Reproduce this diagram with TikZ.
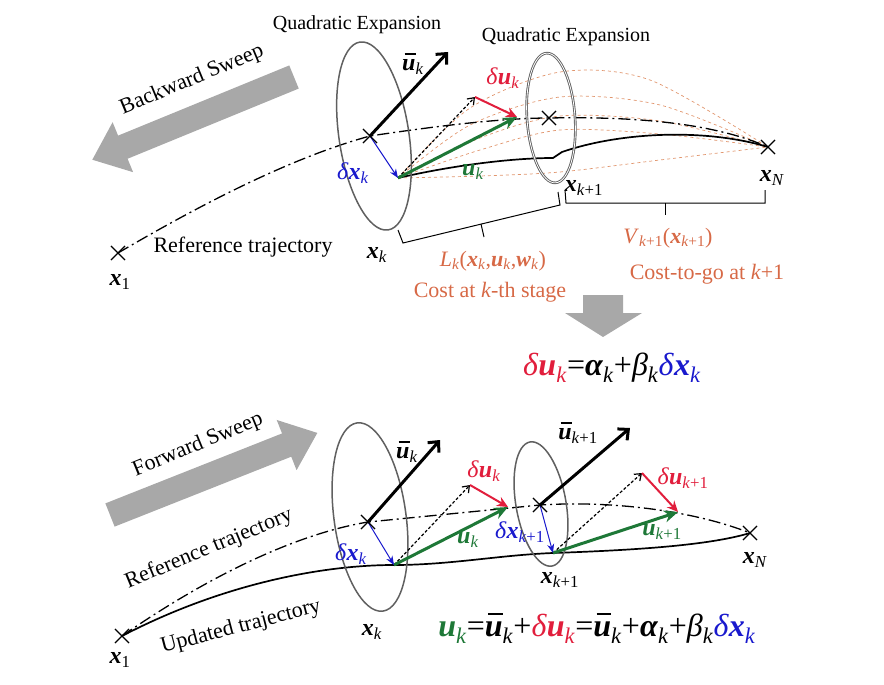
\documentclass[tikz,border=0pt]{standalone}
\usepackage{fontspec}
\setmainfont{Liberation Serif}
\usetikzlibrary{arrows.meta,shapes.misc}
\definecolor{myred}{RGB}{225,30,60}
\definecolor{mygreen}{RGB}{30,120,55}
\definecolor{myblue}{RGB}{25,25,205}
\definecolor{myorange}{RGB}{215,105,70}
\definecolor{fancol}{RGB}{225,150,110}
\definecolor{sweepcol}{RGB}{168,168,168}
\newcommand{\bx}{\textbf{\textit{x}}}
\newcommand{\bu}{\textbf{\textit{u}}}
\newcommand{\bw}{\textbf{\textit{w}}}
\newcommand{\ba}{\textbf{\textit{α}}}
\newcommand{\ubar}{\makebox[0pt][l]{\hspace{0.1em}\rule[0.66em]{0.46em}{0.07em}}\bu}
\newcommand{\sbk}{\textsubscript{\textit{k}}}
\newcommand{\sbkk}{\textsubscript{\textit{k}+1}}
\newcommand{\dl}{\textit{δ}}
\begin{document}
\begin{tikzpicture}[x=1pt,y=-1pt,
  cx/.style={cross out,draw,line width=1.1pt,minimum size=13pt,inner sep=0pt},
  lab/.style={font=\fontsize{24}{26}\selectfont,inner sep=0pt},
  txt/.style={font=\fontsize{22}{24}\selectfont,inner sep=0pt},
  qtxt/.style={font=\fontsize{20}{22}\selectfont,inner sep=0pt},
  frm/.style={font=\fontsize{32}{34}\selectfont,inner sep=0pt},
  refl/.style={line width=1.3pt,dash pattern=on 12pt off 4pt on 2pt off 4pt},
  updl/.style={line width=1.7pt},
  baru/.style={line width=3pt,-{Straight Barb[length=8pt,width=15pt]}},
  greenarr/.style={mygreen,line width=3pt,-{Stealth[length=14pt,width=12pt]}},
  redarr/.style={myred,line width=2pt,-{Stealth[length=11pt,width=10pt]}},
  bluearr/.style={myblue,line width=1pt,-{Stealth[length=9pt,width=7pt]}},
  dasharr/.style={line width=1.2pt,densely dashed,-{Straight Barb[length=6pt,width=9pt]}},
  ell/.style={draw=gray!75!black,line width=1.5pt},
  fan/.style={fancol,dashed,line width=0.7pt},
  brk/.style={line width=1pt},
]
\useasboundingbox (0,0) rectangle (884,685);

% ================= TOP PANEL =================
\coordinate (t1) at (118,253);
\coordinate (trk) at (370,136);
\coordinate (tak) at (398,178);
\coordinate (trk1) at (549,118);
\coordinate (tak1) at (553,158);
\coordinate (tN) at (768,147);
\coordinate (tub) at (448,52);
\coordinate (tdt) at (475,97);
\coordinate (tuk) at (517,117);

% sweep arrow (backward)
\begin{scope}[shift={(294,77)},rotate=202.3]
  \fill[sweepcol] (0,-12.5) -- (185,-12.5) -- (185,-27) -- (218,0) -- (185,27) -- (185,12.5) -- (0,12.5) -- cycle;
\end{scope}
\node[txt,rotate=22.5] (bsw) at (192,80) {Backward Sweep};

% fan curves
\draw[fan] plot[smooth] coordinates {(398,178) (470,108) (560,72) (650,80) (768,147)};
\draw[fan] plot[smooth] coordinates {(398,178) (470,125) (560,97) (660,105) (768,147)};
\draw[fan] plot[smooth] coordinates {(398,178) (480,138) (560,116) (660,121) (768,147)};
\draw[fan] plot[smooth] coordinates {(398,178) (480,150) (560,130) (660,134) (768,147)};
\draw[fan] plot[smooth] coordinates {(398,178) (480,176) (560,172) (660,160) (768,147)};

% trajectories
\draw[refl] (t1) .. controls (200,205) and (290,158) .. (trk) .. controls (430,127) and (500,118) .. (trk1) .. controls (650,116) and (720,126) .. (tN);
\draw[updl] (tak) .. controls (450,166) and (510,158) .. (tak1) -- (562,152) .. controls (620,132) and (705,128) .. (tN);

% ellipses
\draw[ell,rotate around={8.5:(374,136)}] (374,136) ellipse [x radius=35, y radius=95];
\draw[ell,double=white,double distance=0.8pt,line width=0.9pt,rotate around={4:(551,118)}] (551,118) ellipse [x radius=24, y radius=65];

% arrows
\draw[baru] (trk) -- (tub);
\draw[dasharr] (tak) -- (tdt);
\draw[redarr] (tdt) -- (tuk);
\draw[greenarr] (tak) -- (tuk);
\draw[bluearr] (trk) -- (tak);

% crosses
\node[cx] (ct1) at (t1) {};
\node[cx] (ctrk) at (trk) {};
\node[cx] (ctrk1) at (trk1) {};
\node[cx] (ctN) at (tN) {};

% brackets
\draw[brk] (398,230) -- (403,243) -- (560,205) -- (558,192);
\draw[brk] (481,224) -- (484,237);
\draw[brk] (565,190) -- (566,203) -- (765,203) -- (765,190);
\draw[brk] (665,203) -- (665,215);

% labels
\node[qtxt] (q1) at (357,25) {Quadratic Expansion};
\node[qtxt] (q2) at (566,37) {Quadratic Expansion};
\node[txt] (rt1) at (243,247) {Reference trajectory};
\node[lab] (lub1) at (413,64) {\ubar\sbk};
\node[lab,text=myblue] (ldx1) at (353,173) {\dl\bx\sbk};
\node[lab,text=myred] (ldu1) at (503,78) {\dl\bu\sbk};
\node[lab,text=mygreen] (luk1) at (473,172) {\bu\sbk};
\node[lab] (lxk1) at (377,255) {\bx\sbk};
\node[lab] (lx11) at (120,282) {\bx\textsubscript{1}};
\node[lab] (lxk11) at (584,188) {\bx\sbkk};
\node[lab] (lxN1) at (772,178) {\bx\textsubscript{\textit{N}}};
\node[txt,text=myorange] (lL) at (493,261) {\textit{L}\sbk(\bx\sbk,\bu\sbk,\bw\sbk)};
\node[txt,text=myorange] (lc1) at (490,292) {Cost at \textit{k}-th stage};
\node[txt,text=myorange] (lV) at (668,238) {\textit{V}\sbkk(\bx\sbkk)};
\node[txt,text=myorange] (lc2) at (707,274) {Cost-to-go at \textit{k}+1};

% down arrow
\fill[sweepcol] (583,295) -- (623,295) -- (623,313) -- (642,313) -- (603,337) -- (565,313) -- (583,313) -- cycle;
\node[frm] (f1) at (612,368) {{\color{myred}\dl\bu\sbk}=\ba\sbk+\textit{β}\sbk{\color{myblue}\dl\bx\sbk}};

% ================= BOTTOM PANEL =================
\coordinate (b1) at (122,636);
\coordinate (brk) at (368,522);
\coordinate (bak) at (394,565);
\coordinate (brk1) at (540,505);
\coordinate (bak1) at (553,553);
\coordinate (bN) at (750,533);
\coordinate (bub) at (440,440);
\coordinate (bdt) at (470,485);
\coordinate (buk) at (508,507);
\coordinate (bub1) at (630,428);
\coordinate (bdt1) at (642,473);
\coordinate (buk1) at (678,512);

\begin{scope}[shift={(110,515)},rotate=21.6]
  \fill[sweepcol] (0,-12.5) -- (190,-12.5) -- (190,-27) -- (223,0) -- (190,27) -- (190,12.5) -- (0,12.5) -- cycle;
\end{scope}
\node[txt,rotate=22.3] (fsw) at (198,445) {Forward Sweep};

\draw[refl] (b1) .. controls (200,582) and (290,535) .. (brk) -- (brk1) .. controls (620,500) and (700,513) .. (bN);
\draw[updl] (b1) .. controls (220,585) and (320,565) .. (bak) .. controls (450,565) and (500,555) .. (bak1) .. controls (640,550) and (710,545) .. (bN);

\draw[ell,rotate around={7.8:(370,517)}] (370,517) ellipse [x radius=36, y radius=95];
\draw[ell,rotate around={10:(541,504)}] (541,504) ellipse [x radius=25, y radius=63];

\draw[baru] (brk) -- (bub);
\draw[dasharr] (bak) -- (bdt);
\draw[redarr] (bdt) -- (buk);
\draw[greenarr] (bak) -- (buk);
\draw[bluearr] (brk) -- (bak);
\draw[baru] (brk1) -- (bub1);
\draw[dasharr] (bak1) -- (bdt1);
\draw[redarr] (bdt1) -- (buk1);
\draw[greenarr] (bak1) -- (buk1);
\draw[bluearr] (brk1) -- (bak1);

\node[cx] (cb1) at (b1) {};
\node[cx] (cbrk) at (brk) {};
\node[cx] (cbrk1) at (brk1) {};
\node[cx] (cbN) at (bN) {};

\node[txt,rotate=22.5] (rt2) at (209,549) {Reference trajectory};
\node[txt,rotate=14.7] (ut) at (241,627) {Updated trajectory};
\node[lab] (lub2) at (407,452) {\ubar\sbk};
\node[lab,text=myblue] (ldx2) at (351,554) {\dl\bx\sbk};
\node[lab,text=myred] (ldu2) at (484,471) {\dl\bu\sbk};
\node[lab,text=mygreen] (luk2) at (468,540) {\bu\sbk};
\node[lab] (lub3) at (578,433) {\ubar\sbkk};
\node[lab,text=myblue] (ldx3) at (520,532) {\dl\bx\sbkk};
\node[lab,text=myred] (ldu3) at (683,478) {\dl\bu\sbkk};
\node[lab,text=mygreen] (luk3) at (662,532) {\bu\sbkk};
\node[lab] (lxk2) at (372,632) {\bx\sbk};
\node[lab] (lx12) at (120,660) {\bx\textsubscript{1}};
\node[lab] (lxk12) at (560,580) {\bx\sbkk};
\node[lab] (lxN2) at (755,560) {\bx\textsubscript{\textit{N}}};

\node[frm] (f2) at (597,628) {{\color{mygreen}\bu\sbk}=\ubar\sbk+{\color{myred}\dl\bu\sbk}=\ubar\sbk+\ba\sbk+\textit{β}\sbk{\color{myblue}\dl\bx\sbk}};
\end{tikzpicture}
\end{document}
